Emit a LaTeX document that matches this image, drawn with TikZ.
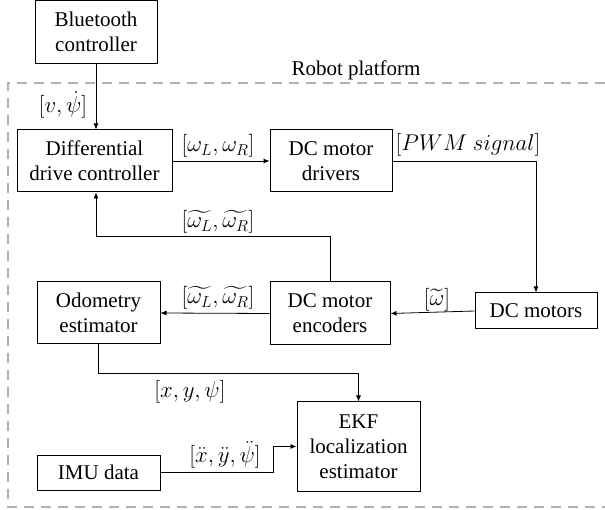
\documentclass[tikz,border=0pt]{standalone}
\usepackage{fontspec}
\setmainfont{Liberation Serif}
\usepackage{amsmath}
\usetikzlibrary{arrows.meta,positioning}

\begin{document}
\begin{tikzpicture}[x=1pt, y=-1pt,
  blk/.style = {draw, line width=1pt, align=center, inner sep=0pt},
  lbl/.style = {inner sep=0pt},
  arr/.style = {-{Latex[length=6pt,width=5pt]}, line width=0.8pt},
  font=\rmfamily\fontsize{21}{25}\selectfont]
		\useasboundingbox (0,0) rectangle (605,510);
		% robot platform frame
		\draw[gray!60, line width=2.5pt, dash pattern=on 10pt off 7pt] (605,83) -- (8,83) -- (8,507) -- (605,507);
		\node[lbl] (plat) at (356,70) {Robot platform};
		% blocks
		\node[blk, minimum width=122, minimum height=63] (bt)  at (96,32)    {Bluetooth\\controller};
		\node[blk, minimum width=155, minimum height=62] (dif) at (94.5,161) {Differential\\drive controller};
		\node[blk, minimum width=122, minimum height=62] (drv) at (331,161)  {DC motor\\drivers};
		\node[blk, minimum width=122, minimum height=36] (mot) at (536,311)  {DC motors};
		\node[blk, minimum width=120, minimum height=63] (enc) at (330,313.5) {DC motor\\encoders};
		\node[blk, minimum width=123, minimum height=62] (odo) at (98.5,313) {Odometry\\estimator};
		\node[blk, minimum width=123, minimum height=89] (ekf) at (358.5,446.5) {EKF\\localization\\estimator};
		\node[blk, minimum width=123, minimum height=35] (imu) at (98.5,472.5) {IMU data};
		% signals
		\draw[arr] (bt.south) -- (bt.south |- dif.north);
		\draw[arr] (dif.east) -- (drv.west);
		\draw[arr] (drv.east) -| (mot.north);
		\draw[arr] (mot.west) -- (enc.east);
		\draw[arr] (enc.north) -- ++(0,-45) -| (bt.south |- dif.south);
		\draw[arr] (enc.west) -- (odo.east);
		\draw[arr] (odo.south) -- ++(0,29) -| (ekf.north);
		\draw[arr] (imu.east) -- ++(113,0) |- (ekf.west);
		% labels
		\node[lbl, scale=1.1] (v)   at (63,105)  {$[v,\dot{\psi}]$};
		\node[lbl, scale=1.1] (w)   at (218,146) {$[\omega_L,\omega_R]$};
		\node[lbl, scale=1.1] (pwm) at (468,145) {$[PWM\ signal]$};
		\node[lbl, scale=1.1] (wm)  at (437,300) {$[\widetilde{\omega}]$};
		\node[lbl, scale=1.1] (wfb) at (218,222) {$[\widetilde{\omega_L},\widetilde{\omega_R}]$};
		\node[lbl, scale=1.1] (wod) at (218,298) {$[\widetilde{\omega_L},\widetilde{\omega_R}]$};
		\node[lbl, scale=1.1] (pos) at (190,392) {$[x,y,\psi]$};
		\node[lbl, scale=1.1] (acc) at (225,455) {$[\ddot{x},\ddot{y},\ddot{\psi}]$};
\end{tikzpicture}
\end{document}
